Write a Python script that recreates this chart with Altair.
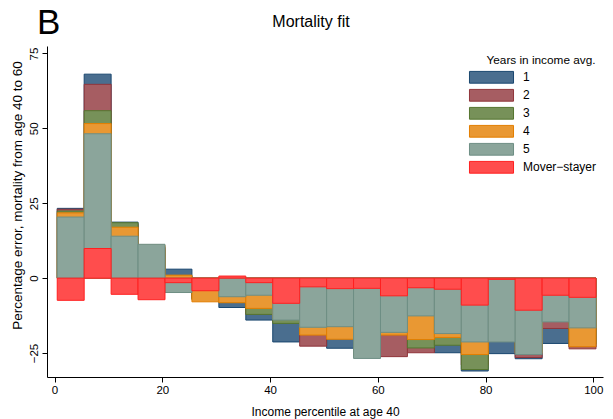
import altair as alt
import pandas as pd

# Percentile groups of 5: centres 3, 8, ..., 98, each 5 wide
centers = [3, 8, 13, 18, 23, 28, 33, 38, 43, 48, 53, 58, 63, 68, 73, 78, 83, 88, 93, 98]

series_names = ["1", "2", "3", "4", "5", "Mover−stayer"]

# Percentage error in 40-60 mortality by income group
err_1 = [23.3, 68.1, 18.7, 10.5, 3.0, -7.0, -9.8, -14.0, -21.3, -21.0,
         -23.4, -24.0, -24.5, -24.0, -24.9, -31.0, -25.2, -26.9, -21.8, -23.0]
err_2 = [23.0, 64.7, 18.0, 10.0, 0.5, -6.5, -7.5, -12.0, -14.5, -22.7,
         -20.0, -25.0, -26.2, -24.9, -22.0, -29.0, -21.0, -26.5, -16.8, -23.6]
err_3 = [22.4, 55.9, 18.5, 9.5, 0.8, -7.2, -8.0, -12.1, -15.1, -18.5,
         -19.5, -25.5, -18.8, -23.3, -22.4, -30.5, -20.5, -24.0, -14.0, -22.0]
err_4 = [21.8, 51.6, 17.0, 11.0, 1.0, -7.9, -8.2, -10.1, -13.5, -19.0,
         -20.4, -26.0, -19.0, -20.5, -19.8, -25.5, -20.0, -25.0, -13.5, -22.9]
err_5 = [20.4, 48.2, 14.0, 11.3, -4.8, -3.5, -6.2, -5.7, -14.0, -16.4,
         -16.2, -26.8, -18.1, -12.6, -18.5, -21.3, -21.3, -25.5, -14.6, -16.6]
err_ms = [-7.4, 9.9, -5.4, -7.2, -1.5, -4.2, 0.7, -1.5, -8.4, -2.9,
          -3.5, -3.4, -5.9, -3.2, -3.7, -9.0, -0.4, -10.7, -5.7, -6.4]

fill_colors = ["#4A6E8F", "#A65D62", "#779159", "#E99833", "#8BA59B", "#FF4D4D"]
line_colors = ["#1A476F", "#90353B", "#55752F", "#E37E00", "#6E8E84", "#FF2020"]

# Rows are laid out series by series so later series paint over earlier ones
rows = []
for k, (name, vals) in enumerate(zip(series_names, [err_1, err_2, err_3, err_4, err_5, err_ms])):
    for c, v in zip(centers, vals):
        rows.append({"series": name, "order": k, "x0": c - 2.5, "x1": c + 2.5, "err": v, "base": 0})
df = pd.DataFrame(rows)

FONT = "Liberation Sans"

xscale = alt.Scale(domain=[-1.4, 101.8], nice=False, zero=False)
yscale = alt.Scale(domain=[-33, 77.5], nice=False, zero=False)

# Wide flat swatch: a 12px base symbol whose path reaches out to +/-22px horizontally
legend = alt.Legend(
    title="Years in income avg.",
    orient="none",
    legendX=438,
    legendY=9,
    symbolType="M-3.67,-0.98L3.67,-0.98L3.67,0.98L-3.67,0.98Z",
    symbolSize=144,
    symbolStrokeWidth=1,
    symbolOpacity=1,
    labelFontSize=12,
    labelFont=FONT,
    labelColor="black",
    labelOffset=25,
    titleFontSize=11.8,
    titleFont=FONT,
    titleFontWeight="normal",
    titleColor="black",
    titleAnchor="middle",
    titlePadding=4,
    rowPadding=1,
    padding=0,
)

bars = alt.Chart(df).mark_bar(strokeWidth=1, opacity=1).encode(
    x=alt.X("x0:Q", scale=xscale,
            axis=alt.Axis(values=[0, 20, 40, 60, 80, 100], title="Income percentile at age 40",
                          grid=False, domainColor="black", tickColor="black", tickSize=5,
                          labelFontSize=11.5, labelFont=FONT, labelColor="black", labelPadding=2,
                          titleFontSize=12, titleFont=FONT, titleFontWeight="normal",
                          titleColor="black", titleY=29, titleBaseline="top")),
    x2="x1:Q",
    y=alt.Y("err:Q", scale=yscale,
            axis=alt.Axis(values=[-25, 0, 25, 50, 75],
                          title="Percentage error, mortality from age 40 to 60",
                          grid=False, domainColor="black", tickColor="black", tickSize=5,
                          labelFontSize=11.5, labelFont=FONT, labelColor="black",
                          labelAngle=270, labelAlign="center", labelBaseline="bottom",
                          labelPadding=3,
                          titleFontSize=13.5, titleFont=FONT, titleFontWeight="normal",
                          titleColor="black", titleAngle=270, titleX=-23, titleY=149,
                          titleBaseline="bottom", titleAlign="center")),
    y2="base:Q",
    fill=alt.Fill("series:N", scale=alt.Scale(domain=series_names, range=fill_colors), legend=legend),
    stroke=alt.Stroke("series:N", scale=alt.Scale(domain=series_names, range=line_colors), legend=legend),
    order=alt.Order("order:Q"),
)

title_df = pd.DataFrame({"label": ["Mortality fit"]})
title = alt.Chart(title_df).mark_text(
    font=FONT, fontSize=16, color="black", align="center", baseline="alphabetic"
).encode(text="label:N", x=alt.value(264), y=alt.value(-19))

panel_df = pd.DataFrame({"label": ["B"]})
panel = alt.Chart(panel_df).mark_text(
    font=FONT, fontSize=35, color="black", align="left", baseline="alphabetic"
).encode(text="label:N", x=alt.value(-10), y=alt.value(-12))

chart = alt.layer(bars, title, panel).properties(
    width=556,
    height=331,
    autosize=alt.AutoSizeParams(type="none"),
    padding={"left": 47, "top": 46, "right": 10, "bottom": 42},
    background="white",
).configure_view(stroke=None)

chart.save("out.html", embed_options={"renderer": "svg", "actions": False})
